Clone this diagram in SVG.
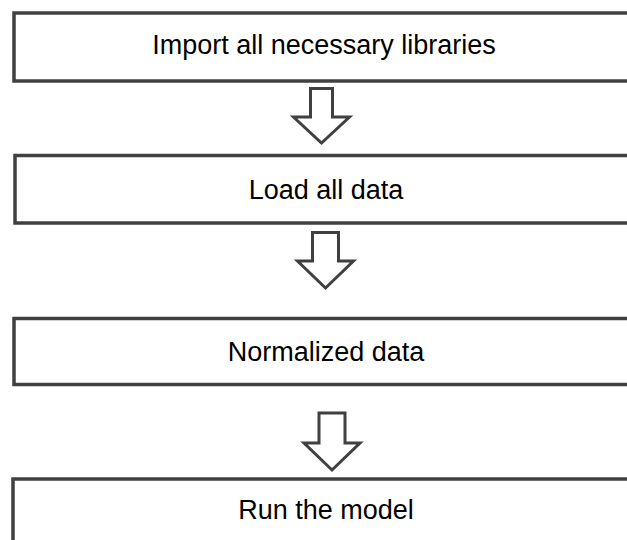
<svg xmlns="http://www.w3.org/2000/svg" width="627" height="540" viewBox="0 0 627 540">
<style>
.box{fill:#fff;stroke:#404040;stroke-width:3.5}
.arr{fill:#fff;stroke:#404040;stroke-width:3;stroke-linejoin:miter}
.lbl{font-family:"Liberation Sans",Arial,sans-serif;font-size:27px;fill:#000;text-anchor:middle}
</style>
<rect width="627" height="540" fill="#fff"/>
<g id="node1"><rect class="box" x="14" y="13" width="630" height="68"/><text class="lbl" x="324" y="54">Import all necessary libraries</text></g>
<g id="node2"><rect class="box" x="15" y="155.5" width="630" height="67.5"/><text class="lbl" x="326" y="199">Load all data</text></g>
<g id="node3"><rect class="box" x="14" y="318.5" width="630" height="66"/><text class="lbl" x="326" y="361">Normalized data</text></g>
<g id="node4"><rect class="box" x="13" y="479" width="630" height="80"/><text class="lbl" x="326" y="519">Run the model</text></g>
<g id="connectors">
<path class="arr" d="M310.5,88.5 H332.5 V117 H349.5 L321.5,143 L293.5,117 H310.5 Z"/>
<path class="arr" d="M312.5,232.5 H338.5 V261 H353.5 L325.5,288 L297.5,261 H312.5 Z"/>
<path class="arr" d="M319,413 H345 V443 H360 L332,470 L304,443 H319 Z"/>
</g>
</svg>
